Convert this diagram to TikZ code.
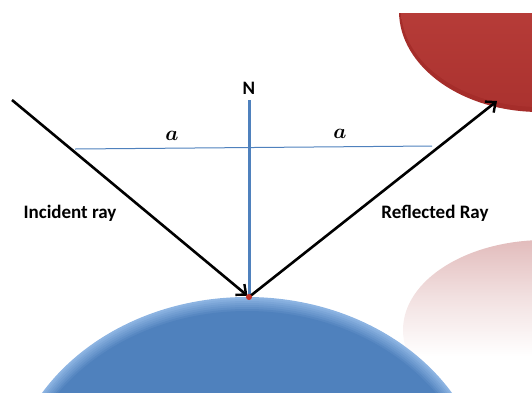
\documentclass[tikz,border=0pt]{standalone}
\usepackage{amsmath}
\usepackage{fontspec}
\setsansfont{Carlito}
\usetikzlibrary{arrows.meta}
\definecolor{bluemain}{RGB}{79,129,189}
\definecolor{bluelight}{RGB}{141,180,226}
\definecolor{redmain}{RGB}{194,70,66}
\definecolor{reddark}{RGB}{165,45,42}
\definecolor{pinktop}{RGB}{226,188,188}
\definecolor{dotred}{RGB}{200,50,40}
\tikzset{
  ray/.style={line width=2.6pt, black, -{Straight Barb[length=8pt,width=14pt,line width=2.4pt]}},
  normalline/.style={line width=3pt, bluemain},
  thinline/.style={line width=1pt, bluemain},
  lbl/.style={font=\sffamily\bfseries\fontsize{19}{21}\selectfont, inner sep=0pt},
  alabel/.style={font=\fontsize{20}{22}\selectfont, inner sep=0pt}
}
\begin{document}
\begin{tikzpicture}[x=1pt,y=-1pt]
\useasboundingbox (0,0) rectangle (532,392);
% faint pink ellipse
\begin{scope}
\clip (545,330) ellipse [x radius=142pt, y radius=90pt];
\shade[top color=pinktop, bottom color=white, middle color=pinktop!45!white] (380,240) rectangle (532,356);
\end{scope}
% red ellipse
\begin{scope}
\clip (0,13) rectangle (532,392);
\fill[reddark] (540,11) ellipse [x radius=141pt, y radius=101pt];
\shade[top color=redmain, bottom color=reddark!80!redmain] (540,9) ellipse [x radius=139pt, y radius=98pt];
\end{scope}
% blue ellipse
\begin{scope}
\clip (0,0) rectangle (532,392);
\foreach \i in {0,...,7}{
  \pgfmathsetmacro{\mix}{100-\i*100/7}
  \fill[bluelight!\mix!bluemain] (247,497+1.5*\i) ellipse [x radius={(240-1.1*\i)*1pt}, y radius={(200-0.5*\i)*1pt}];
}
\end{scope}
% geometry
\coordinate (P) at (249,297);
\coordinate (ntop) at (249,100);
\coordinate (inc) at (12,100);
\coordinate (refl) at (497,101);
\coordinate (hl) at (75,149);
\coordinate (hr) at (432,146);
\draw[thinline] (hl) -- (hr);
\draw[normalline] (ntop) -- (P);
\draw[ray, shorten >=2pt] (inc) -- (P);
\draw[ray] (P) -- (refl);
\node[circle, fill=dotred, inner sep=0pt, minimum size=6pt] (dot) at (P) {};
% labels
\node[lbl] (N) at (249,88) {N};
\node[alabel] (a1) at (172,136) {$\boldsymbol{a}$};
\node[alabel] (a2) at (340,134) {$\boldsymbol{a}$};
\node[lbl] (incl) at (70,213) {Incident ray};
\node[lbl] (refll) at (435,213) {Reflected Ray};
\end{tikzpicture}
\end{document}
